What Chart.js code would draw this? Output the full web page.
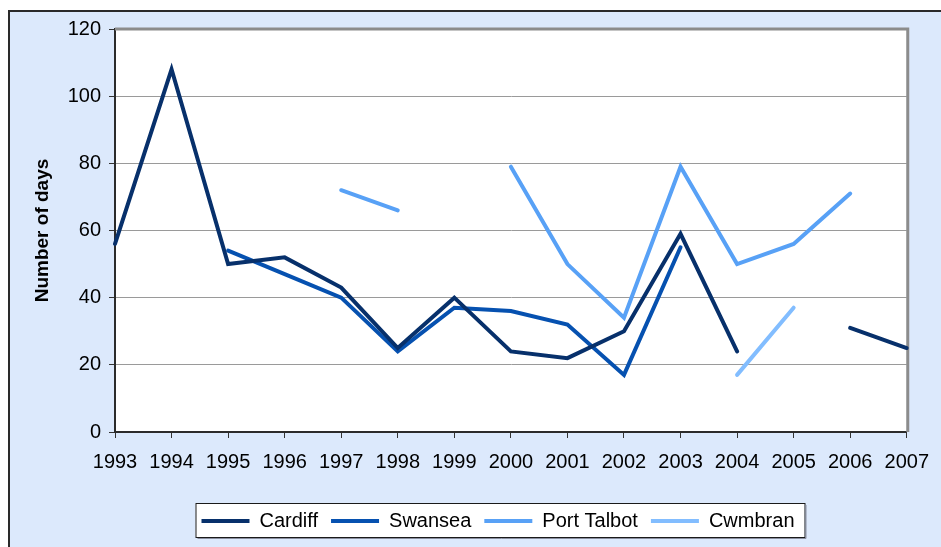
<!DOCTYPE html>
<html>
<head>
<meta charset="utf-8">
<script src="https://cdn.jsdelivr.net/npm/chart.js@4/dist/chart.umd.min.js"></script>
<style>
  html, body { margin: 0; padding: 0; background: #ffffff; }
  #wrap { width: 941px; height: 547px; position: relative; }
</style>
</head>
<body>
<div id="wrap"><canvas id="c" width="941" height="547"></canvas></div>
<script>
const years = ['1993','1994','1995','1996','1997','1998','1999','2000','2001','2002','2003','2004','2005','2006','2007'];
const cardiff    = [56, 108, 50, 52, 43, 25, 40, 24, 22, 30, 59, 24, null, 31, 25];
const swansea    = [null, null, 54, 47, 40, 24, 37, 36, 32, 17, 55, null, null, null, null];
const portTalbot = [null, null, null, null, 72, 66, null, 79, 50, 34, 79, 50, 56, 71, null];
const cwmbran    = [null, null, null, null, null, null, null, null, null, null, null, 17, 37, null, null];
const yTicks = [0, 20, 40, 60, 80, 100, 120];

const FONT = '"Liberation Sans", Arial, sans-serif';

const frame = {
  id: 'frame',
  afterLayout(chart) {
    const l = chart.legend;
    if (l) {
      const dx = 498 - (l.left + l.right) / 2;
      l.left += dx; l.right += dx;
    }
  },
  beforeDraw(chart) {
    const ctx = chart.ctx;
    const W = chart.width, H = chart.height;
    ctx.save();
    ctx.fillStyle = '#ffffff';
    ctx.fillRect(0, 0, W, H);
    ctx.fillStyle = '#dce9fc';
    ctx.fillRect(9, 11, W - 9, H - 11);
    ctx.strokeStyle = '#2a2a2a';
    ctx.lineWidth = 2;
    ctx.beginPath();
    ctx.moveTo(9, H); ctx.lineTo(9, 11); ctx.lineTo(W, 11);
    ctx.stroke();
    const a = chart.chartArea;
    ctx.fillStyle = '#ffffff';
    ctx.fillRect(a.left, a.top, a.right - a.left, a.bottom - a.top);
    // legend box
    const lg = chart.legend;
    if (lg && lg.legendHitBoxes && lg.legendHitBoxes.length) {
      const hb = lg.legendHitBoxes;
      const first = hb[0], last = hb[hb.length - 1];
      const x0 = first.left - 6;
      const x1 = last.left + last.width + 10;
      const y0 = 503;
      const y1 = 537;
      ctx.fillStyle = '#ffffff';
      ctx.fillRect(x0, y0, x1 - x0, y1 - y0);
      ctx.strokeStyle = '#1a1a1a';
      ctx.lineWidth = 1;
      ctx.strokeRect(x0 + 0.5, y0 + 0.5, x1 - x0, y1 - y0);
      ctx.strokeStyle = '#8a8fa0';
      ctx.beginPath();
      ctx.moveTo(x0 + 2, y1 + 1.5); ctx.lineTo(x1 + 1.5, y1 + 1.5); ctx.lineTo(x1 + 1.5, y0 + 2);
      ctx.stroke();
    }
    ctx.restore();
  },
  beforeDatasetsDraw(chart) {
    const ctx = chart.ctx;
    const a = chart.chartArea;
    ctx.save();
    ctx.strokeStyle = '#8c8c8c';
    ctx.lineWidth = 3;
    ctx.beginPath();
    ctx.moveTo(a.left, a.top); ctx.lineTo(a.right + 1, a.top); ctx.lineTo(a.right + 1, a.bottom);
    ctx.stroke();
    ctx.restore();
  }
};

const mk = (label, data, color) => ({
  label, data,
  borderColor: color,
  backgroundColor: color,
  borderWidth: 4,
  pointRadius: 0,
  pointHoverRadius: 0,
  tension: 0,
  spanGaps: false,
  borderCapStyle: 'round',
  borderJoinStyle: 'miter',
  fill: false
});

new Chart(document.getElementById('c'), {
  type: 'line',
  data: {
    labels: years,
    datasets: [
      mk('Cardiff', cardiff, '#07306b'),
      mk('Swansea', swansea, '#0651b0'),
      mk('Port Talbot', portTalbot, '#58a1f6'),
      mk('Cwmbran', cwmbran, '#82bdff')
    ]
  },
  options: {
    responsive: false,
    animation: false,
    devicePixelRatio: 1,
    layout: { padding: { left: 20, right: 34, top: 29, bottom: 6 } },
    plugins: {
      tooltip: { enabled: false },
      legend: {
        display: true,
        position: 'bottom',
        labels: {
          usePointStyle: true,
          pointStyle: 'line',
          pointStyleWidth: 48,
          boxHeight: 20,
          padding: 13,
          color: '#000000',
          font: { family: FONT, size: 20 }
        }
      }
    },
    scales: {
      x: {
        type: 'category',
        offset: false,
        afterFit(scale) { scale.height = 66; },
        grid: { display: true, drawOnChartArea: false, drawTicks: true, tickLength: 6, color: '#333333', tickColor: '#333333', tickWidth: 1 },
        border: { display: true, color: '#2b2b2b', width: 2 },
        ticks: { color: '#000000', font: { family: FONT, size: 20 }, padding: 12, maxRotation: 0, autoSkip: false }
      },
      y: {
        min: 0, max: 120,
        afterFit(scale) { scale.width = 95; },
        afterBuildTicks(scale) { scale.ticks = yTicks.map(v => ({ value: v })); },
        grid: { display: true, drawOnChartArea: true, drawTicks: true, tickLength: 6, color: '#9a9a9a', tickColor: '#333333', lineWidth: 1 },
        border: { display: true, color: '#2b2b2b', width: 2 },
        ticks: { color: '#000000', font: { family: FONT, size: 20 }, padding: 8, stepSize: 20 },
        title: {
          display: true,
          text: 'Number of days',
          color: '#000000',
          font: { family: FONT, size: 19, weight: 'bold' },
          padding: { top: 11, bottom: 0 }
        }
      }
    }
  },
  plugins: [frame]
});
</script>
</body>
</html>
